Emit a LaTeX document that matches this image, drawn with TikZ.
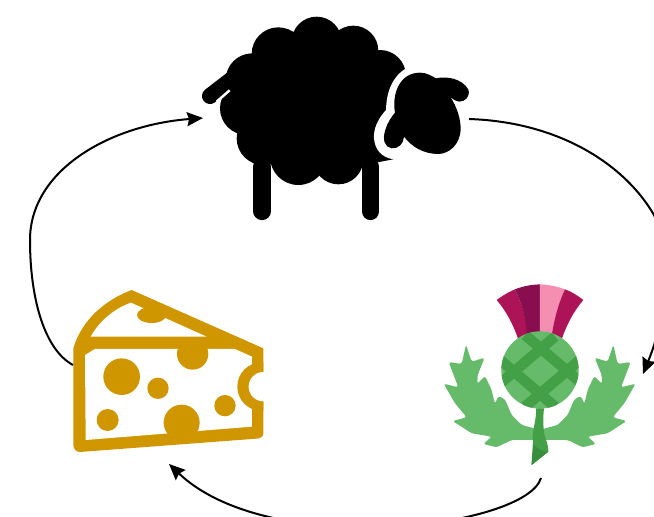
\documentclass[tikz,border=0pt]{standalone}
\usetikzlibrary{arrows.meta}
\definecolor{cheesegold}{HTML}{CF9600}
\definecolor{leafgreen}{HTML}{66BB6A}
\definecolor{darkgreen}{HTML}{43A047}
\definecolor{stemdark}{HTML}{388E3C}
\definecolor{crimson}{HTML}{AD1457}
\definecolor{wine}{HTML}{880E4F}
\definecolor{rosepink}{HTML}{F48FB1}
\tikzset{
  flow/.style={draw=black,line width=2pt,-{Stealth[length=16pt,width=14pt,inset=2pt]}},
  icon/.style={x=0.3333pt,y=-0.3333pt},
  leg/.style={line width=17.6pt,line cap=round,black},
  band/.style={darkgreen,line width=10.5pt}
}
\newcommand{\leafshape}{
  \fill[leafgreen,rounded corners=2.5pt] (108,224) -- (125,275) -- (164,263) -- (143,315) -- (142,342) -- (165,318) -- (185,360) -- (195,402) -- (205,378) -- (225,388) -- (245,435) -- (275,465) -- (320,477) -- (320,510) -- (245,510) -- (200,532) -- (160,522) -- (185,500) -- (125,490) -- (68,453) -- (110,442) -- (75,400) -- (41,341) -- (85,352) -- (56,276) -- (95,282) -- cycle;
}
\begin{document}
\begin{tikzpicture}[x=1pt,y=-1pt]
\useasboundingbox (0,0) rectangle (654,517);
\clip (0,0) rectangle (654,517);
\coordinate (sheepout) at (469,119);
\coordinate (sheepin) at (203,118);
\coordinate (thistlein) at (643,374);
\coordinate (thistleout) at (541,478);
\coordinate (cheesein) at (169,464);
\coordinate (cheeseout) at (73,365);
% sheep
\begin{scope}[icon,xshift=190pt]
  \draw[line width=16pt,line cap=round,black] (60,288) -- (125,238);
  \fill[black] (380,125) circle[radius=75] (265,162) circle[radius=80] (490,152) circle[radius=75]
    (187,240) circle[radius=80] (170,325) circle[radius=80] (220,415) circle[radius=80]
    (325,470) circle[radius=85] (445,478) circle[radius=75] (570,228) circle[radius=78]
    (360,300) circle[radius=190] (500,400) circle[radius=95] (510,425) circle[radius=70];
  \fill[black] (500,180) -- (640,240) -- (620,400) -- (610,478) -- (520,495) -- (480,400) -- cycle;
  \draw[white,line width=2.5pt] (80,305) -- (119,271);
  \draw[leg] (216.5,500) -- (216.5,634);
  \draw[leg] (541.5,500) -- (541.5,634);
  \fill[white] (665,195) .. controls (625,215) and (590,250) .. (588,330)
    .. controls (565,355) and (550,385) .. (552,415)
    .. controls (555,450) and (575,472) .. (610,478) -- (720,500) -- (720,195) -- cycle;
  \fill[black] (690,218) .. controls (710,218) and (725,228) .. (738,235)
    .. controls (770,228) and (815,235) .. (835,268)
    .. controls (842,290) and (825,305) .. (808,305)
    .. controls (798,305) and (790,298) .. (782,292)
    .. controls (800,320) and (812,355) .. (812,385)
    .. controls (812,435) and (775,462) .. (745,462)
    .. controls (700,462) and (665,440) .. (642,410)
    .. controls (642,430) and (625,447) .. (605,445)
    .. controls (585,442) and (576,420) .. (586,390)
    .. controls (591,370) and (605,350) .. (615,338)
    .. controls (605,280) and (630,218) .. (690,218) -- cycle;
\end{scope}
% thistle
\begin{scope}[icon,xshift=430pt,yshift=-270pt]
  \fill[crimson] (200,90) .. controls (220,75) and (238,65) .. (255,58) .. controls (275,100) and (290,150) .. (295,200) -- (265,208) .. controls (250,165) and (230,125) .. (200,90) -- cycle;
  \fill[wine] (255,58) .. controls (280,48) and (305,44) .. (330,43) -- (330,200) -- (290,200) .. controls (290,150) and (275,100) .. (255,58) -- cycle;
  \fill[rosepink] (330,43) .. controls (355,44) and (382,49) .. (405,58) .. controls (385,100) and (372,150) .. (368,200) -- (330,200) -- cycle;
  \fill[crimson] (405,58) .. controls (425,65) and (442,76) .. (460,90) .. controls (430,125) and (410,165) .. (395,208) -- (365,200) .. controls (372,150) and (385,100) .. (405,58) -- cycle;
  \leafshape
  \begin{scope}[xshift=219.33pt,xscale=-1]\leafshape\end{scope}
  \fill[leafgreen] (330,300) circle[radius=116];
  \begin{scope}
    \clip (330,300) circle[radius=116];
    \draw[band] (205,345) -- (375,200);
    \draw[band] (285,410) -- (455,265);
    \draw[band] (285,195) -- (455,340);
    \draw[band] (205,265) -- (375,410);
  \end{scope}
  \fill[darkgreen] (318,415) -- (342,415) .. controls (338,450) and (340,480) .. (345,500) .. controls (350,515) and (356,530) .. (355,545) -- (305,585) .. controls (305,555) and (310,530) .. (308,500) .. controls (310,470) and (320,445) .. (318,415) -- cycle;
  \fill[stemdark] (355,545) -- (305,585) .. controls (305,565) and (308,545) .. (312,525) .. controls (325,540) and (340,545) .. (355,545) -- cycle;
\end{scope}
% cheese
\begin{scope}[icon,xshift=60pt,yshift=-280pt]
  \fill[cheesegold] (40,205) .. controls (65,120) and (135,60) .. (215,30) -- (610,205) -- (610,460) .. controls (610,470) and (600,476) .. (590,476) -- (60,516) .. controls (50,516) and (40,508) .. (40,495) -- cycle;
  \fill[white] (92,170) .. controls (120,120) and (165,85) .. (213,68) -- (440,170) -- cycle;
  \fill[cheesegold] (275,105) ellipse[x radius=44,y radius=24];
  \fill[cheesegold] (215,60) -- (330,112) -- (300,70) -- cycle;
  \fill[white] (75,225) -- (105,207) -- (525,207) -- (576,230) -- (576,440) -- (77,480) -- cycle;
  \begin{scope}
    \clip (75,207) rectangle (576,480);
    \fill[cheesegold] (398,222) circle[radius=47];
    \fill[cheesegold] (365,428) circle[radius=54];
  \end{scope}
  \fill[cheesegold] (185,290) circle[radius=55] (294,325) circle[radius=32] (143,420) circle[radius=33] (495,377) circle[radius=32];
  \begin{scope}
    \clip (500,200) rectangle (610,400);
    \fill[cheesegold] (605,320) circle[radius=73];
  \end{scope}
  \fill[white] (610,320) circle[radius=44];
\end{scope}
% connectors
\draw[flow] (sheepout) .. controls (560,122) and (625,165) .. (654,215) .. controls (675,260) and (665,320) .. (thistlein);
\draw[flow] (thistleout) .. controls (526,528) and (270,560) .. (cheesein);
\draw[flow] (cheeseout) .. controls (45,350) and (30,300) .. (30,240) .. controls (30,170) and (110,125) .. (sheepin);
\end{tikzpicture}
\end{document}
